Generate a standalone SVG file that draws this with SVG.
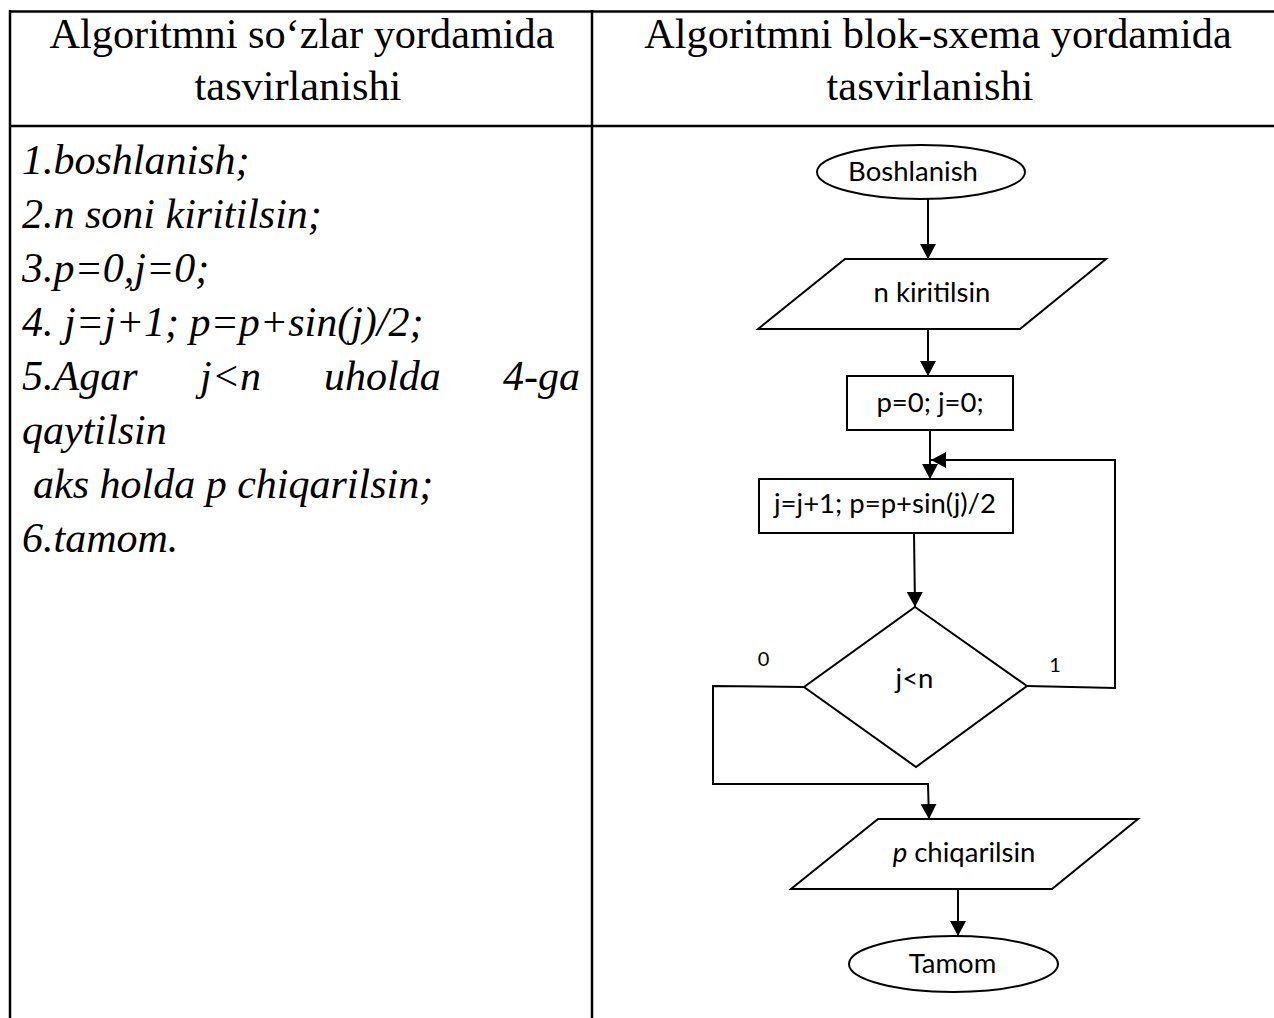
<svg xmlns="http://www.w3.org/2000/svg" width="1274" height="1018" viewBox="0 0 1274 1018">
<defs>
<marker id="ah" viewBox="0 0 10 10" refX="10" refY="5" markerWidth="15" markerHeight="16" markerUnits="userSpaceOnUse" orient="auto" preserveAspectRatio="none">
<path d="M0,0 L10,5 L0,10 Z" fill="#000"/>
</marker>
<style>
.tbl{stroke:#000;stroke-width:2.5;fill:none}
.hd{font-family:"Liberation Serif","Times New Roman",serif;font-size:42.3px;fill:#000}
.bd{font-family:"Liberation Serif","Times New Roman",serif;font-size:42px;font-style:italic;fill:#000}
.sh{fill:#fff;stroke:#000;stroke-width:2}
.fl{font-family:Lato,"Liberation Sans",sans-serif;font-size:27.5px;fill:#000}
.sm{font-family:Lato,"Liberation Sans",sans-serif;font-size:20px;fill:#000}
.cn{fill:none;stroke:#000;stroke-width:2}
</style>
</defs>
<rect width="1274" height="1018" fill="#fff"/>
<g id="table">
<line class="tbl" x1="9" y1="11.5" x2="1274" y2="11.5"/>
<line class="tbl" x1="9" y1="126" x2="1274" y2="126"/>
<line class="tbl" x1="10" y1="10" x2="10" y2="1018"/>
<line class="tbl" x1="592" y1="10" x2="592" y2="1018"/>
</g>
<g id="headers">
<text class="hd" x="302" y="48" text-anchor="middle">Algoritmni so‘zlar yordamida</text>
<text class="hd" x="298" y="100" text-anchor="middle">tasvirlanishi</text>
<text class="hd" x="938" y="48" text-anchor="middle">Algoritmni blok-sxema yordamida</text>
<text class="hd" x="930" y="100" text-anchor="middle">tasvirlanishi</text>
</g>
<g id="steps">
<text class="bd" x="22" y="174">1.boshlanish;</text>
<text class="bd" x="22" y="228">2.n soni kiritilsin;</text>
<text class="bd" x="22" y="282">3.p=0,j=0;</text>
<text class="bd" x="22" y="336">4. j=j+1; p=p+sin(j)/2;</text>
<text class="bd" x="22" y="390">5.Agar</text>
<text class="bd" x="200" y="390">j&lt;n</text>
<text class="bd" x="324" y="390">uholda</text>
<text class="bd" x="580" y="390" text-anchor="end">4-ga</text>
<text class="bd" x="22" y="444">qaytilsin</text>
<text class="bd" x="33" y="498">aks holda p chiqarilsin;</text>
<text class="bd" x="22" y="552">6.tamom.</text>
</g>
<g id="connectors">
<line class="cn" x1="928" y1="199" x2="928" y2="259" marker-end="url(#ah)"/>
<line class="cn" x1="928" y1="329" x2="928" y2="376" marker-end="url(#ah)"/>
<line class="cn" x1="930" y1="430" x2="930" y2="479" marker-end="url(#ah)"/>
<polyline class="cn" points="1027,686 1115,688 1115,460 931,460" marker-end="url(#ah)"/>
<line class="cn" x1="914" y1="533" x2="915" y2="607" marker-end="url(#ah)"/>
<polyline class="cn" points="804,687 713,686 713,784 928,784 929,819" marker-end="url(#ah)"/>
<line class="cn" x1="958" y1="889" x2="958" y2="936" marker-end="url(#ah)"/>
</g>
<g id="n-start">
<ellipse class="sh" cx="921" cy="172" rx="104" ry="27"/>
<text class="fl" x="913" y="181" text-anchor="middle">Boshlanish</text>
</g>
<g id="n-input">
<polygon class="sh" points="845,259 1106,259 1020,329 758,329"/>
<text class="fl" x="932" y="302" text-anchor="middle">n kiritilsin</text>
</g>
<g id="n-init">
<rect class="sh" x="847" y="376" width="166" height="54"/>
<text class="fl" x="930" y="412" text-anchor="middle">p=0; j=0;</text>
</g>
<g id="n-step">
<rect class="sh" x="759" y="479" width="254" height="54"/>
<text class="fl" x="885" y="513" text-anchor="middle">j=j+1; p=p+sin(j)/2</text>
</g>
<g id="n-cond">
<polygon class="sh" points="915,607 1027,686 916,767 804,687"/>
<text class="fl" x="914.5" y="688" text-anchor="middle">j&lt;n</text>
<text class="sm" x="763.5" y="666" text-anchor="middle">0</text>
<text class="sm" x="1055" y="672" text-anchor="middle">1</text>
</g>
<g id="n-output">
<polygon class="sh" points="878,819 1138,819 1052,889 791,889"/>
<text class="fl" x="964" y="862" text-anchor="middle"><tspan font-style="italic">p</tspan> chiqarilsin</text>
</g>
<g id="n-end">
<ellipse class="sh" cx="953.5" cy="964" rx="104.5" ry="28"/>
<text class="fl" x="952.5" y="973" text-anchor="middle">Tamom</text>
</g>
</svg>
